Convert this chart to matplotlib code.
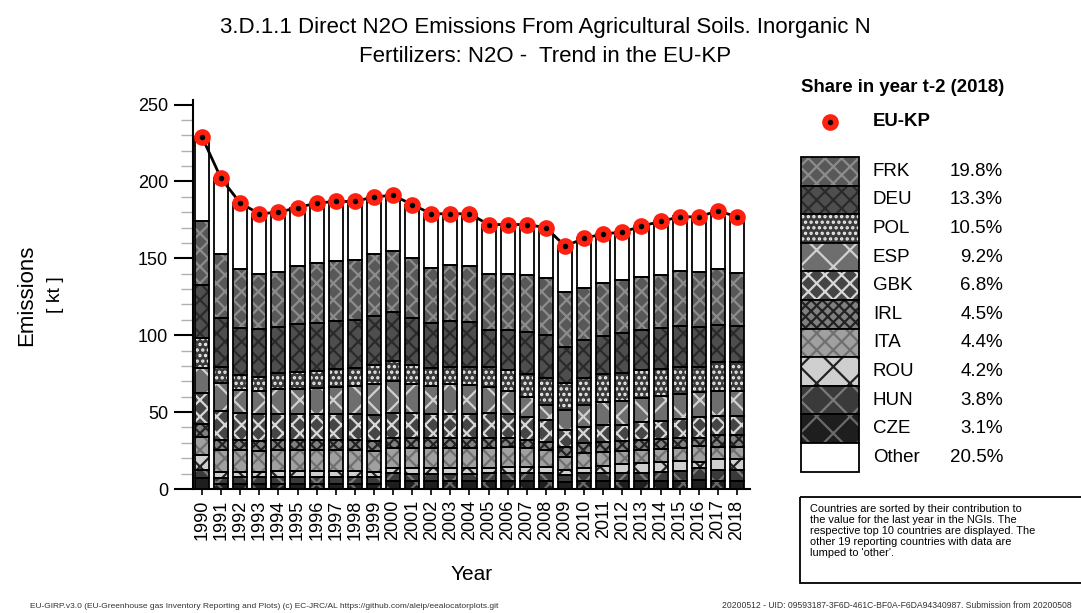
import matplotlib
matplotlib.use('Agg')
import matplotlib.pyplot as plt
from matplotlib.patches import Rectangle
import numpy as np

plt.rcParams['font.family'] = ['Liberation Sans', 'DejaVu Sans']
plt.rcParams['hatch.linewidth'] = 1.6

years = list(range(1990, 2019))
totals = [229, 202, 186, 179, 180, 183, 186, 187, 187, 190, 191, 185, 179, 179, 179,
          172, 172, 172, 170, 158, 163, 166, 167, 171, 174, 177, 177, 181, 177]

# stacked from bottom to top
cze = [7, 3.5, 3.5, 3.5, 3.5, 3.5, 3.5, 3.5, 3.5, 3.5, 5, 5, 5, 5, 5,
       5, 5, 5, 5, 4.5, 5, 5, 5, 5, 5, 5.2, 6, 5.5, 5.5]
hun = [5.4, 3.5, 4, 4, 4, 4, 4, 4, 4, 4, 5.4, 5, 5, 5, 5,
       5.4, 5.4, 5.4, 5.4, 4.5, 5.4, 5.4, 5.4, 5.4, 5.8, 6.5, 7.7, 7, 6.7]
rou = [9.6, 4, 3.5, 3.5, 4, 4, 4, 4, 4, 3.5, 3.3, 3.5, 3.5, 3.5, 3.5,
       3.3, 3.6, 4, 3.9, 3.4, 3.3, 4.6, 5.6, 6.6, 6.6, 6.5, 3.9, 7, 7.4]
ita = [12, 14.4, 14.4, 14, 14, 14, 14, 14, 14, 13.5, 13, 13, 13, 13, 13,
       13, 13, 12, 11, 8.6, 9.7, 9, 8.5, 8.4, 8.4, 8.3, 10.4, 8, 7.8]
irl = [8, 6.6, 6.6, 6.5, 6.5, 6.5, 6.5, 6.5, 6.5, 6.5, 6.3, 6.5, 6.5, 6.5, 6.5,
       6.3, 6, 5.5, 5.3, 6.3, 6.6, 6.5, 6.8, 6.6, 6.4, 6.5, 5, 7.5, 8]
gbk = [20.5, 19, 17.5, 17, 17, 17, 17, 17, 17, 17, 16.5, 16.5, 16, 16, 16,
       16.5, 16, 15, 14.4, 11, 10.4, 11, 10.5, 11.6, 12, 12.5, 14, 12.5, 12]
esp = [16.5, 18, 15, 15, 16, 16, 17, 17.5, 18, 20, 20.5, 19, 18, 19, 18.5,
       17, 14.5, 13, 9.7, 13, 14.3, 15, 15.5, 15.4, 16, 16.5, 16, 16.5, 16.3]
pol = [19, 10.5, 9.5, 9.5, 10.5, 11, 11, 11.5, 12, 12.5, 13, 12, 11.5, 11.5, 12,
       13, 14, 15, 17.3, 17.6, 17.3, 18, 18.3, 18.5, 18, 17.5, 16.5, 18.5, 18.6]
deu = [35, 31.5, 31, 31, 30, 31, 31, 31, 31, 32, 32, 31, 29.5, 29.5, 29,
       24, 26, 27, 28, 23.5, 25, 25, 26, 26, 26.5, 26.5, 26, 24, 23.5]
frk = [41, 42, 38, 36, 35.5, 38, 39, 39, 39, 40.5, 40, 38.5, 36, 37, 36.5,
       36.5, 36.5, 37, 37, 35.5, 34, 34.5, 34.4, 34.5, 34.3, 35.5, 35.5, 36.5, 35]
other = [55, 49, 43, 39, 39, 38, 39, 39, 38, 37, 36, 35, 35, 33, 34,
         32, 32, 33, 33, 30, 32, 32, 31, 33, 35, 36, 36, 38, 36.2]

names = ['CZE', 'HUN', 'ROU', 'ITA', 'IRL', 'GBK', 'ESP', 'POL', 'DEU', 'FRK', 'Other']
layers = [cze, hun, rou, ita, irl, gbk, esp, pol, deu, frk, other]
shares = ['3.1%', '3.8%', '4.2%', '4.4%', '4.5%', '6.8%', '9.2%', '10.5%', '13.3%', '19.8%', '20.5%']

# (face colour, hatch, hatch colour)
styles = [
    ('#1e1e1e', 'x', '#6a6a6a'),
    ('#3a3a3a', 'x', '#7a7a7a'),
    ('#cfcfcf', 'x', '#222222'),
    ('#a0a0a0', 'xx', '#707070'),
    ('#808080', 'xxx', '#222222'),
    ('#454545', 'xx', '#d8d8d8'),
    ('#6e6e6e', 'x', '#d0d0d0'),
    ('#3a3a3a', '...', '#eeeeee'),
    ('#4e4e4e', 'xx', '#2a2a2a'),
    ('#585858', 'xx', '#8c8c8c'),
    ('#ffffff', '', '#ffffff'),
]

W, H = 1081, 613
fig = plt.figure(figsize=(W / 100, H / 100), dpi=100)

ax = fig.add_axes([193 / W, (H - 489) / H, (750 - 193) / W, (489 - 100) / H])
x = np.arange(len(years))
bw = 0.74
bottom = np.zeros(len(years))
for vals, (fc, hatch, hc) in zip(layers, styles):
    v = np.array(vals, dtype=float)
    ax.bar(x, v, bw, bottom=bottom, color=fc, hatch=hatch, edgecolor=hc, linewidth=0, zorder=2)
    ax.bar(x, v, bw, bottom=bottom, fill=False, edgecolor='black', linewidth=1.3, zorder=3)
    bottom += v

ax.plot(x, totals, color='black', lw=2, marker='o', markersize=8,
        markerfacecolor='black', markeredgecolor='#ff2010', markeredgewidth=4, zorder=5)

ax.set_xlim(-0.47, len(years) - 1 + 0.68)
ax.set_ylim(0, 253)
ax.set_yticks([0, 50, 100, 150, 200, 250])
ax.set_yticks(np.arange(0, 251, 10), minor=True)
ax.tick_params(axis='y', which='major', length=14, width=1.5, pad=4, labelsize=13, colors='black')
ax.tick_params(axis='y', which='minor', length=9, width=1, color='#b0b0b0')
ax.set_xticks(x)
ax.set_xticklabels([str(y) for y in years], rotation=90, fontsize=13)
ax.tick_params(axis='x', length=4, width=1.2)
for s in ['top', 'right']:
    ax.spines[s].set_visible(False)
ax.spines['left'].set_linewidth(1.5)
ax.spines['bottom'].set_linewidth(1.5)

ax.set_xlabel('Year', fontsize=15, labelpad=18)
fig.text(27 / W, 1 - 295 / H, 'Emissions', rotation=90, fontsize=16, ha='center', va='center')
fig.text(55 / W, 1 - 295 / H, '[ kt ]', rotation=90, fontsize=14, ha='center', va='center')

fig.text(545 / W, 1 - 28 / H, '3.D.1.1 Direct N2O Emissions From Agricultural Soils. Inorganic N',
         ha='center', va='center', fontsize=16)
fig.text(545 / W, 1 - 57 / H, 'Fertilizers: N2O -  Trend in the EU-KP',
         ha='center', va='center', fontsize=16)

# legend panel drawn in pixel coordinates
lg = fig.add_axes([0, 0, 1, 1], zorder=-1)
lg.set_xlim(0, W)
lg.set_ylim(H, 0)
lg.axis('off')
lg.text(801, 87, 'Share in year t-2 (2018)', fontsize=13.4, fontweight='bold', va='center')
lg.plot([830], [122], marker='o', markersize=8, markerfacecolor='black',
        markeredgecolor='#ff2010', markeredgewidth=4, linestyle='none')
lg.text(873, 122, 'EU-KP', fontsize=13.4, fontweight='bold', va='center')

row_h = 28.6
top = 157
order = list(range(9, -1, -1)) + [10]  # FRK ... CZE, Other
for i, k in enumerate(order):
    fc, hatch, hc = styles[k]
    y0 = top + i * row_h
    lg.add_patch(Rectangle((801, y0), 58, row_h, facecolor=fc, hatch=hatch, edgecolor=hc, linewidth=0))
    lg.add_patch(Rectangle((801, y0), 58, row_h, fill=False, edgecolor='black', linewidth=1.3))
    lg.text(873, y0 + row_h / 2, names[k], fontsize=13.5, va='center')
    lg.text(1003, y0 + row_h / 2, shares[k], fontsize=13.5, va='center', ha='right')

lg.add_patch(Rectangle((800, 497), 290, 86, fill=False, edgecolor='black', linewidth=1.3))
lg.text(810, 504, "Countries are sorted by their contribution to\nthe value for the last year in the NGIs. The\n"
        "respective top 10 countries are displayed. The\nother 19 reporting countries with data are\n"
        "lumped to 'other'.", fontsize=7.9, va='top', linespacing=1.12)

fig.text(30 / W, 1 - 606 / H, 'EU-GIRP.v3.0 (EU-Greenhouse gas Inventory Reporting and Plots) (c) EC-JRC/AL '
         'https://github.com/aleip/eealocatorplots.git', fontsize=6.0, color='#333333', va='center')
fig.text(1072 / W, 1 - 606 / H, '20200512 - UID: 09593187-3F6D-461C-BF0A-F6DA94340987. Submission from 20200508',
         fontsize=6.2, color='#333333', va='center', ha='right')

fig.savefig('out.png', dpi=100)
